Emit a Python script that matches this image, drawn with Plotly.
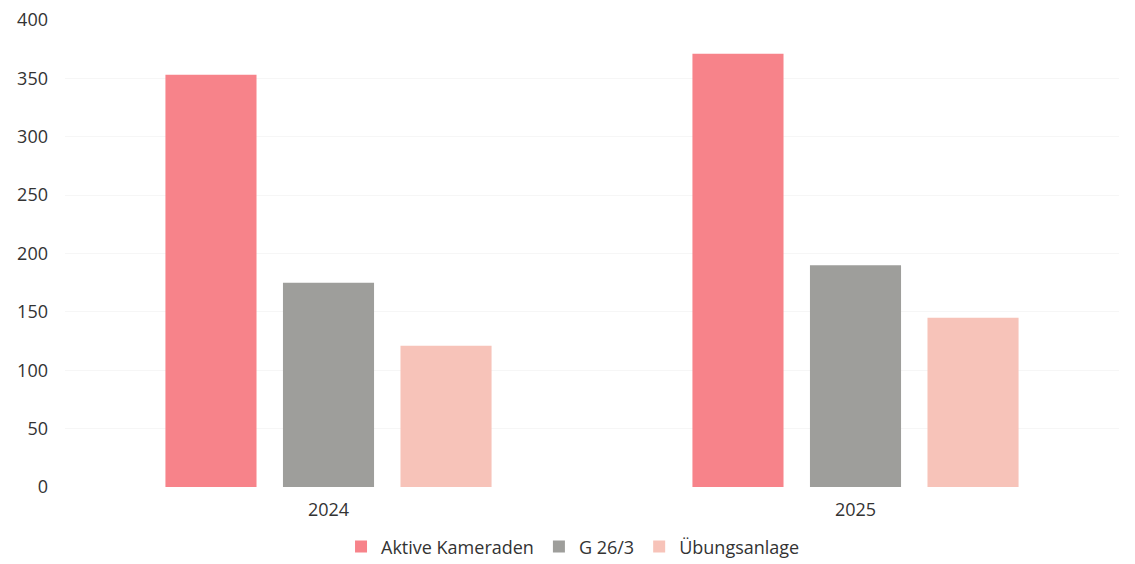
import plotly.graph_objects as go

years = ["2024", "2025"]
series_names = ["Aktive Kameraden", "G 26/3", "Übungsanlage"]
aktive = [353, 371]
g263 = [175, 190]
uebung = [121, 145]
colors = ["#F7838A", "#9E9E9B", "#F7C3B9"]
y_ticks = [0, 50, 100, 150, 200, 250, 300, 350, 400]

fig = go.Figure()
for name, vals, col in zip(series_names, [aktive, g263, uebung], colors):
    fig.add_trace(go.Bar(x=years, y=vals, name=name, marker=dict(color=col, line=dict(width=0))))

fig.update_layout(
    width=1135, height=564,
    barmode="group", bargap=0.331, bargroupgap=0.225,
    paper_bgcolor="white", plot_bgcolor="white",
    margin=dict(l=57, r=24, t=12, b=85, autoexpand=False),
    font=dict(family="Open Sans", size=18, color="#333333"),
    showlegend=True,
    legend=dict(orientation="h", x=0.482, xanchor="center", y=-0.128, yanchor="middle",
                font=dict(size=18, color="#333333"), traceorder="normal",
                itemwidth=30, itemsizing="constant", tracegroupgap=0),
    xaxis=dict(showline=False, ticks="", tickfont=dict(size=18), automargin=False,
               ticklabelstandoff=10),
    yaxis=dict(range=[0, 400], tickvals=y_ticks, showgrid=True, gridcolor="#f6f6f6",
               zeroline=False, showline=False, ticks="", tickfont=dict(size=18),
               ticklabelstandoff=16, automargin=False, ticklabeloverflow="allow"),
)

fig.write_html("out.html")
